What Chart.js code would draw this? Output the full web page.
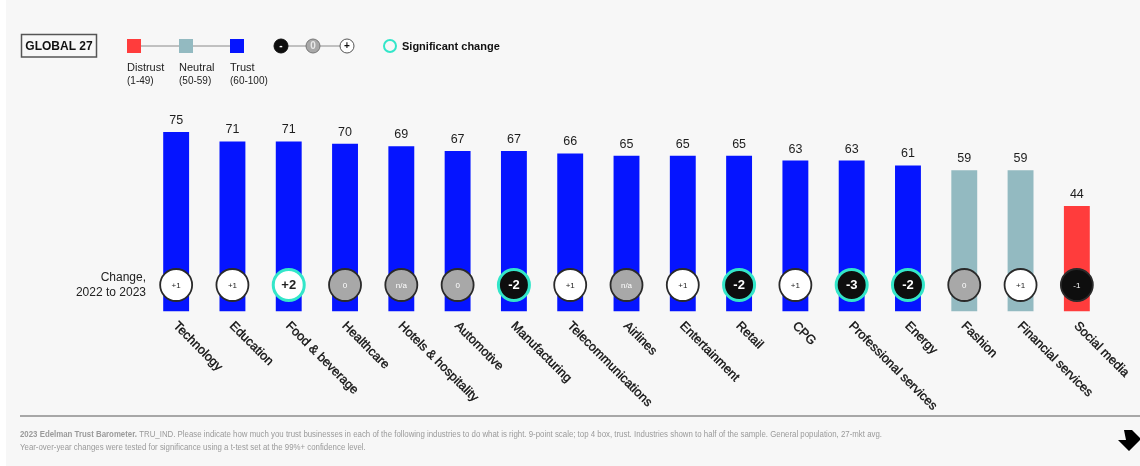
<!DOCTYPE html>
<html>
<head>
<meta charset="utf-8">
<script src="https://cdn.jsdelivr.net/npm/chart.js@4.4.1/dist/chart.umd.min.js"></script>
<style>
html,body{margin:0;padding:0;background:#ffffff;}
canvas{display:block;}
</style>
</head>
<body>
<canvas id="c" width="1140" height="466"></canvas>
<script>
const categories = ["Technology","Education","Food & beverage","Healthcare","Hotels & hospitality","Automotive","Manufacturing","Telecommunications","Airlines","Entertainment","Retail","CPG","Professional services","Energy","Fashion","Financial services","Social media"];
const trustScores = [75,71,71,70,69,67,67,66,65,65,65,63,63,61,59,59,44];
const changeLabels = ["+1","+1","+2","0","n/a","0","-2","+1","n/a","+1","-2","+1","-3","-2","0","+1","-1"];
const significant = [false,false,true,false,false,false,true,false,false,false,true,false,true,true,false,false,false];
const legendItems = [
  {name:"Distrust", range:"(1-49)"},
  {name:"Neutral", range:"(50-59)"},
  {name:"Trust", range:"(60-100)"}
];
const footerLine1Bold = "2023 Edelman Trust Barometer.";
const footerLine1 = " TRU_IND. Please indicate how much you trust businesses in each of the following industries to do what is right. 9-point scale; top 4 box, trust. Industries shown to half of the sample. General population, 27-mkt avg.";
const footerLine2 = "Year-over-year changes were tested for significance using a t-test set at the 99%+ confidence level.";

const RED = "#ff3c3c", TEAL = "#93bac1", BLUE = "#0514ff";
const FONT = "'Liberation Sans', Arial, Helvetica, sans-serif";
const barColors = trustScores.map(v => v < 50 ? RED : (v < 60 ? TEAL : BLUE));

function circleStyle(label){
  if (label.startsWith("+")) return {fill:"#ffffff", text:"#222222"};
  if (label.startsWith("-")) return {fill:"#0e0e0e", text:"#ffffff"};
  return {fill:"#a8a8a8", text:"#ffffff"};
}

const decor = {
  id: "decor",
  beforeDraw(chart){
    const ctx = chart.ctx;
    ctx.save();
    ctx.fillStyle = "#ffffff";
    ctx.fillRect(0,0,chart.width,chart.height);
    ctx.fillStyle = "#f7f7f7";
    ctx.fillRect(6,0,chart.width-6,chart.height);
    ctx.restore();
  },
  afterDatasetsDraw(chart){
    const ctx = chart.ctx;
    const xs = chart.scales.x;
    const meta = chart.getDatasetMeta(0);
    ctx.save();
    // value labels
    ctx.fillStyle = "#1e1e1e";
    ctx.font = "12.5px " + FONT;
    ctx.textAlign = "center";
    ctx.textBaseline = "alphabetic";
    meta.data.forEach((bar, i) => {
      ctx.fillText(String(trustScores[i]), bar.x, bar.y - 8);
    });
    // change circles
    const cy = 285;
    changeLabels.forEach((lab, i) => {
      const x = xs.getPixelForValue(i);
      const st = circleStyle(lab);
      ctx.beginPath();
      ctx.arc(x, cy, significant[i] ? 15.5 : 16, 0, Math.PI*2);
      ctx.fillStyle = st.fill;
      ctx.fill();
      if (significant[i]) {
        ctx.lineWidth = 3;
        ctx.strokeStyle = "#33e6c9";
      } else {
        ctx.lineWidth = 1.8;
        ctx.strokeStyle = "#2a2a2a";
      }
      ctx.stroke();
      ctx.fillStyle = st.text;
      ctx.textAlign = "center";
      ctx.textBaseline = "middle";
      ctx.font = significant[i] ? "bold 13px " + FONT : "8px " + FONT;
      ctx.fillText(lab, x, cy + 0.5);
    });
    // category labels rotated
    ctx.fillStyle = "#111111";
    ctx.strokeStyle = "#111111";
    ctx.lineWidth = 0.35;
    ctx.font = "12.6px " + FONT;
    ctx.textAlign = "left";
    ctx.textBaseline = "middle";
    categories.forEach((c, i) => {
      const x = xs.getPixelForValue(i);
      ctx.save();
      ctx.translate(x - 1, 324);
      ctx.rotate(Math.PI/4);
      ctx.fillText(c, 0, 0);
      ctx.strokeText(c, 0, 0);
      ctx.restore();
    });
    ctx.restore();
  },
  afterDraw(chart){
    const ctx = chart.ctx;
    ctx.save();
    // Change label
    ctx.fillStyle = "#222222";
    ctx.font = "12px " + FONT;
    ctx.textAlign = "right";
    ctx.textBaseline = "middle";
    ctx.fillText("Change,", 146, 278);
    ctx.fillText("2022 to 2023", 146, 293);

    // GLOBAL 27 box
    ctx.strokeStyle = "#555555";
    ctx.lineWidth = 1.5;
    ctx.strokeRect(21.5, 34.5, 75, 22.5);
    ctx.fillStyle = "#111111";
    ctx.font = "bold 12px " + FONT;
    ctx.textAlign = "center";
    ctx.fillText("GLOBAL 27", 59, 46.5);

    // Trust legend
    const sqX = [127, 179, 230];
    const sqCols = [RED, TEAL, BLUE];
    ctx.strokeStyle = "#8a8a8a";
    ctx.lineWidth = 1;
    ctx.beginPath();
    ctx.moveTo(134, 46); ctx.lineTo(237, 46);
    ctx.stroke();
    sqX.forEach((x, i) => {
      ctx.fillStyle = sqCols[i];
      ctx.fillRect(x, 39, 14, 14);
      ctx.fillStyle = "#222222";
      ctx.textAlign = "left";
      ctx.font = "11px " + FONT;
      ctx.fillText(legendItems[i].name, x, 68);
      ctx.font = "10px " + FONT;
      ctx.fillText(legendItems[i].range, x, 81);
    });

    // change legend
    ctx.strokeStyle = "#8a8a8a";
    ctx.beginPath();
    ctx.moveTo(281, 46); ctx.lineTo(347, 46);
    ctx.stroke();
    const lc = [
      {x:281, fill:"#0e0e0e", stroke:"#0e0e0e", t:"-", tc:"#ffffff"},
      {x:313, fill:"#a8a8a8", stroke:"#777777", t:"0", tc:"#e8e8e8"},
      {x:347, fill:"#ffffff", stroke:"#555555", t:"+", tc:"#111111"}
    ];
    lc.forEach(o => {
      ctx.beginPath();
      ctx.arc(o.x, 46, 7, 0, Math.PI*2);
      ctx.fillStyle = o.fill; ctx.fill();
      ctx.lineWidth = 1; ctx.strokeStyle = o.stroke; ctx.stroke();
      ctx.fillStyle = o.tc;
      ctx.font = "bold 10px " + FONT;
      ctx.textAlign = "center";
      ctx.fillText(o.t, o.x, 46.5);
    });
    // significant
    ctx.beginPath();
    ctx.arc(390, 46, 6, 0, Math.PI*2);
    ctx.lineWidth = 2; ctx.strokeStyle = "#33e6c9"; ctx.stroke();
    ctx.fillStyle = "#111111";
    ctx.font = "bold 11px " + FONT;
    ctx.textAlign = "left";
    ctx.fillText("Significant change", 402, 46.5);

    // bottom rule
    ctx.strokeStyle = "#8c8c8c";
    ctx.lineWidth = 1.5;
    ctx.beginPath();
    ctx.moveTo(20, 416); ctx.lineTo(1140, 416);
    ctx.stroke();

    // footer (fit to widths)
    ctx.fillStyle = "#9a9a9a";
    ctx.textBaseline = "middle";
    ctx.textAlign = "left";
    ctx.font = "bold 9.5px " + FONT;
    const wb = ctx.measureText(footerLine1Bold).width;
    ctx.font = "9.5px " + FONT;
    const wr = ctx.measureText(footerLine1).width;
    const sx = 862 / (wb + wr);
    ctx.save();
    ctx.translate(20, 434);
    ctx.scale(sx, 1);
    ctx.font = "bold 9.5px " + FONT;
    ctx.fillText(footerLine1Bold, 0, 0);
    ctx.font = "9.5px " + FONT;
    ctx.fillText(footerLine1, wb, 0);
    ctx.restore();
    ctx.save();
    ctx.translate(20, 447);
    ctx.scale(sx, 1);
    ctx.fillText(footerLine2, 0, 0);
    ctx.restore();

    // arrow icon
    ctx.fillStyle = "#000000";
    ctx.beginPath();
    ctx.moveTo(1124, 430);
    ctx.lineTo(1132, 430);
    ctx.lineTo(1140, 438);
    ctx.lineTo(1140, 440);
    ctx.lineTo(1129, 451);
    ctx.lineTo(1118, 440);
    ctx.lineTo(1126, 440);
    ctx.closePath();
    ctx.fill();
    ctx.restore();
  }
};

new Chart(document.getElementById("c"), {
  type: "bar",
  data: {
    labels: categories,
    datasets: [{
      data: trustScores,
      backgroundColor: barColors,
      borderWidth: 0,
      barPercentage: 0.46,
      categoryPercentage: 1.0
    }]
  },
  options: {
    responsive: false,
    animation: false,
    devicePixelRatio: 1,
    layout: { padding: { left: 148, right: 35, top: 72, bottom: 154.5 } },
    scales: {
      x: { display: false },
      y: { display: false, min: 0, max: 100 }
    },
    plugins: { legend: { display: false }, tooltip: { enabled: false } }
  },
  plugins: [decor]
});
</script>
</body>
</html>
